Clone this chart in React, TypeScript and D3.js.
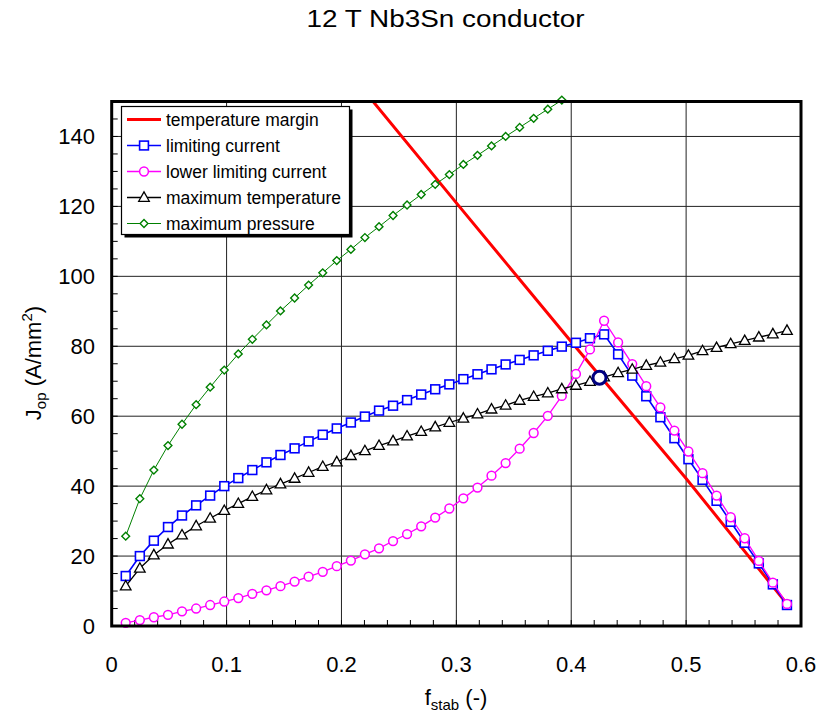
import React, { useEffect, useRef } from 'react'
import * as d3 from 'd3'

// f_stab values shared by every series
const fStab = [
  0.0122, 0.0245, 0.0367, 0.049, 0.0612, 0.0735, 0.0857, 0.098, 0.1102, 0.1224,
  0.1347, 0.1469, 0.1592, 0.1714, 0.1837, 0.1959, 0.2082, 0.2204, 0.2327, 0.2449,
  0.2571, 0.2694, 0.2816, 0.2939, 0.3061, 0.3184, 0.3306, 0.3429, 0.3551, 0.3673,
  0.3796, 0.3918, 0.4041, 0.4163, 0.4286, 0.4408, 0.4531, 0.4653, 0.4776, 0.4898,
  0.502, 0.5143, 0.5265, 0.5388, 0.551, 0.5633, 0.5755, 0.5878
]

const limitingCurrent = [
  14.3, 20.0, 24.4, 28.3, 31.6, 34.5, 37.3, 40.0, 42.3, 44.6,
  46.8, 48.9, 50.8, 52.8, 54.7, 56.5, 58.2, 59.9, 61.6, 63.0,
  64.6, 66.2, 67.7, 69.1, 70.6, 72.0, 73.4, 74.8, 76.1, 77.4,
  78.7, 79.9, 81.0, 82.3, 83.4, 77.7, 71.6, 65.7, 59.7, 53.7,
  47.7, 41.8, 35.8, 29.8, 23.8, 17.9, 11.9, 6.0
]

const lowerLimitingCurrent = [
  0.9, 1.7, 2.5, 3.2, 4.2, 5.0, 6.0, 7.0, 8.0, 9.2,
  10.2, 11.4, 12.7, 14.1, 15.5, 17.1, 18.7, 20.5, 22.2, 24.3,
  26.3, 28.5, 31.0, 33.6, 36.5, 39.6, 43.0, 46.6, 50.7, 55.2,
  60.1, 65.8, 72.1, 79.1, 87.3, 81.1, 74.9, 68.6, 62.5, 55.9,
  49.9, 43.7, 37.3, 31.1, 25.1, 18.6, 12.4, 6.3
]

const maxTemperature = [
  11.4, 16.5, 20.3, 23.4, 26.0, 28.6, 30.8, 33.0, 35.0, 37.0,
  38.9, 40.6, 42.2, 43.9, 45.6, 46.9, 48.7, 50.1, 51.6, 52.9,
  54.3, 55.6, 56.9, 58.2, 59.4, 60.6, 62.0, 63.1, 64.5, 65.6,
  66.6, 67.8, 68.8, 69.9, 71.2, 72.4, 73.4, 74.5, 75.4, 76.4,
  77.4, 78.7, 79.6, 80.7, 81.6, 82.6, 83.5, 84.5
]

// only the first 32 points fit below 150
const maxPressure = [
  25.7, 36.4, 44.6, 51.6, 57.7, 63.3, 68.3, 73.2, 77.8, 82.0,
  86.1, 90.1, 93.8, 97.5, 101.0, 104.5, 107.7, 111.1, 114.2, 117.4,
  120.4, 123.4, 126.3, 129.1, 132.0, 134.6, 137.3, 140.0, 142.6, 145.2,
  147.8, 150.4
]

const marginX = [0.2, 0.3, 0.4, 0.5, 0.5878]
const marginJ = [161, 121, 81.3, 42.2, 6.3]

const operatingPoint = { x: 0.4246, y: 71.0 }

const xTicks = [0, 0.1, 0.2, 0.3, 0.4, 0.5, 0.6]
const yTicks = [0, 20, 40, 60, 80, 100, 120, 140]

const legendLabels = [
  'temperature margin',
  'limiting current',
  'lower limiting current',
  'maximum temperature',
  'maximum pressure'
]

const FONT = '"Liberation Sans", Arial, sans-serif'
const NARROW = '"Liberation Sans Narrow", "Arial Narrow", "Liberation Sans", sans-serif'

const box = { left: 111.7, right: 801, top: 101.5, bottom: 626 }

const marker = (g, type, x, y, color, strokeWidth) => {
  if (type === 'square') {
    g.append('rect')
      .attr('x', x - 4.4)
      .attr('y', y - 4.4)
      .attr('width', 8.8)
      .attr('height', 8.8)
      .attr('fill', 'white')
      .attr('stroke', color)
      .attr('stroke-width', strokeWidth)
  } else if (type === 'circle') {
    g.append('circle')
      .attr('cx', x)
      .attr('cy', y)
      .attr('r', 4.4)
      .attr('fill', 'white')
      .attr('stroke', color)
      .attr('stroke-width', strokeWidth)
  } else if (type === 'triangle') {
    g.append('path')
      .attr('d', `M${x},${y - 5.6}L${x + 5.3},${y + 3.8}L${x - 5.3},${y + 3.8}Z`)
      .attr('fill', 'white')
      .attr('stroke', color)
      .attr('stroke-width', strokeWidth)
  } else if (type === 'diamond') {
    g.append('path')
      .attr('d', `M${x},${y - 3.9}L${x + 3.9},${y}L${x},${y + 3.9}L${x - 3.9},${y}Z`)
      .attr('fill', 'white')
      .attr('stroke', color)
      .attr('stroke-width', strokeWidth)
  }
}

const series = [
  { values: limitingCurrent, color: '#0000ff', width: 1.6, type: 'square', mw: 1.6 },
  { values: lowerLimitingCurrent, color: '#ff00ff', width: 1.3, type: 'circle', mw: 1.5 },
  { values: maxTemperature, color: '#000000', width: 1.3, type: 'triangle', mw: 1.3 },
  { values: maxPressure, color: '#008000', width: 1, type: 'diamond', mw: 1.4 }
]

const makeSVG = (node) => {
  const svg = d3.select(node)
  svg.selectAll('*').remove()

  const x = d3.scaleLinear().domain([0, 0.6]).range([box.left, box.right])
  const y = d3.scaleLinear().domain([0, 150]).range([box.bottom, box.top])

  svg.append('defs')
    .append('clipPath')
    .attr('id', 'plot-clip')
    .append('rect')
    .attr('x', box.left)
    .attr('y', box.top)
    .attr('width', box.right - box.left)
    .attr('height', box.bottom - box.top)

  // title
  svg.append('text')
    .attr('x', 445.5)
    .attr('y', 27)
    .attr('text-anchor', 'middle')
    .attr('font-family', FONT)
    .attr('font-size', 23)
    .attr('textLength', 278)
    .attr('lengthAdjust', 'spacingAndGlyphs')
    .text('12 T Nb3Sn conductor')

  // grid
  const grid = svg.append('g').attr('stroke', '#222').attr('stroke-width', 1)
  xTicks.slice(1, -1).forEach((t) => {
    grid.append('line')
      .attr('x1', x(t)).attr('x2', x(t))
      .attr('y1', box.top).attr('y2', box.bottom)
  })
  yTicks.slice(1).forEach((t) => {
    grid.append('line')
      .attr('x1', box.left).attr('x2', box.right)
      .attr('y1', y(t)).attr('y2', y(t))
  })

  // minor ticks, inside
  const ticks = svg.append('g').attr('stroke', '#000').attr('stroke-width', 1)
  d3.range(0, 31).forEach((i) => {
    const xv = x(i * 0.02)
    ticks.append('line')
      .attr('x1', xv).attr('x2', xv)
      .attr('y1', box.bottom).attr('y2', box.bottom - 6)
  })
  d3.range(0, 31).forEach((i) => {
    const yv = y(i * 5)
    ticks.append('line')
      .attr('x1', box.left).attr('x2', box.left + 6)
      .attr('y1', yv).attr('y2', yv)
  })

  // data lines
  const lines = svg.append('g').attr('clip-path', 'url(#plot-clip)')
  const line = d3.line().x((d) => x(d[0])).y((d) => y(d[1]))

  lines.append('path')
    .attr('d', line(marginX.map((v, i) => [v, marginJ[i]])))
    .attr('fill', 'none')
    .attr('stroke', '#ff0000')
    .attr('stroke-width', 3)

  series.forEach((s) => {
    const pts = s.values.map((v, i) => [fStab[i], v])
    const g = svg.append('g')
    g.append('path')
      .attr('clip-path', 'url(#plot-clip)')
      .attr('d', line(pts))
      .attr('fill', 'none')
      .attr('stroke', s.color)
      .attr('stroke-width', s.width)
    pts.forEach((p) => marker(g, s.type, x(p[0]), y(p[1]), s.color, s.mw))
  })

  // operating point
  svg.append('circle')
    .attr('cx', x(operatingPoint.x))
    .attr('cy', y(operatingPoint.y))
    .attr('r', 6.5)
    .attr('fill', 'white')
    .attr('stroke', '#000080')
    .attr('stroke-width', 3)

  // frame
  svg.append('rect')
    .attr('x', box.left)
    .attr('y', box.top)
    .attr('width', box.right - box.left)
    .attr('height', box.bottom - box.top)
    .attr('fill', 'none')
    .attr('stroke', '#000')
    .attr('stroke-width', 3)

  // tick labels
  svg.append('g')
    .selectAll('text')
    .data(xTicks)
    .enter()
    .append('text')
    .attr('x', (d) => x(d))
    .attr('y', 672)
    .attr('text-anchor', 'middle')
    .attr('font-family', NARROW)
    .attr('font-size', 22)
    .text((d) => d3.format('~g')(d))

  svg.append('g')
    .selectAll('text')
    .data(yTicks)
    .enter()
    .append('text')
    .attr('x', 95)
    .attr('y', (d) => y(d) + 8)
    .attr('text-anchor', 'end')
    .attr('font-family', FONT)
    .attr('font-size', 22)
    .text((d) => d)

  // axis titles
  const xt = svg.append('text')
    .attr('x', 456)
    .attr('y', 705)
    .attr('text-anchor', 'middle')
    .attr('font-family', NARROW)
    .attr('font-size', 22)
  xt.append('tspan').text('f')
  xt.append('tspan').attr('font-size', 15).attr('dy', 5).text('stab')
  xt.append('tspan').attr('dy', -5).text(' (-)')

  const yt = svg.append('text')
    .attr('transform', 'translate(41, 363) rotate(-90)')
    .attr('text-anchor', 'middle')
    .attr('font-family', FONT)
    .attr('font-size', 22)
  yt.append('tspan').text('J')
  yt.append('tspan').attr('font-size', 15).attr('dy', 5).text('op')
  yt.append('tspan').attr('dy', -5).text(' (A/mm')
  yt.append('tspan').attr('font-size', 15).attr('dy', -9).text('2')
  yt.append('tspan').attr('dy', 9).text(')')

  // legend
  const legend = svg.append('g')
  legend.append('rect')
    .attr('x', 124.5).attr('y', 109.5)
    .attr('width', 228).attr('height', 128)
    .attr('fill', '#000')
  legend.append('rect')
    .attr('x', 121.5).attr('y', 106.5)
    .attr('width', 228).attr('height', 128)
    .attr('fill', 'white')
    .attr('stroke', '#000')
    .attr('stroke-width', 1.2)

  const legendSeries = [
    { color: '#ff0000', width: 3, type: null, mw: 0 },
    ...series
  ]
  legendSeries.forEach((s, i) => {
    const cy = 119.5 + i * 26
    legend.append('line')
      .attr('x1', 127).attr('x2', 161)
      .attr('y1', cy).attr('y2', cy)
      .attr('stroke', s.color)
      .attr('stroke-width', s.width)
    if (s.type) marker(legend, s.type, 144, cy, s.color, s.mw)
    legend.append('text')
      .attr('x', 166)
      .attr('y', cy + 6)
      .attr('font-family', FONT)
      .attr('font-size', 17.5)
      .text(legendLabels[i])
  })
}

const App = () => {
  const ref = useRef(null)

  useEffect(() => {
    makeSVG(ref.current)
  }, [])

  return (
    <svg
      ref={ref}
      width={823}
      height={722}
      style={{ position: 'absolute', left: 0, top: 0, background: 'white' }}
    />
  )
}

export default App
